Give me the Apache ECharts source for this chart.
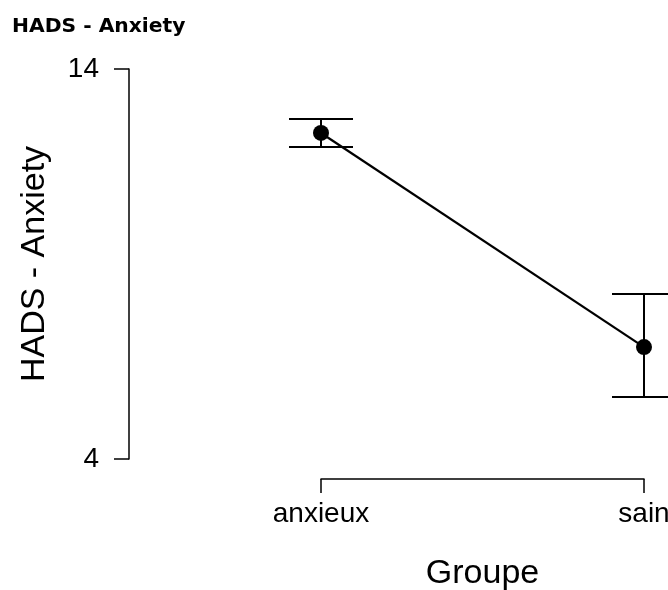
<!DOCTYPE html>
<html>
<head>
<meta charset="utf-8">
<script src="https://cdn.jsdelivr.net/npm/echarts@6/dist/echarts.min.js"></script>
<style>
  html, body { margin: 0; padding: 0; background: #fff; }
  #main { width: 668px; height: 590px; }
</style>
</head>
<body>
<div id="main"></div>
<script>
// données
const groups = ['anxieux', 'sain'];
const means = [12.36, 6.87];
const lower = [12.0, 5.59];
const upper = [12.72, 8.23];
const yMin = 4;
const yMax = 14;

const errData = groups.map((g, i) => [i, lower[i], upper[i]]);

const chart = echarts.init(document.getElementById('main'));

const option = {
  animation: false,
  title: {
    text: 'HADS - Anxiety',
    left: 12,
    top: 17,
    padding: 0,
    textStyle: { fontFamily: 'DejaVu Sans', fontWeight: 'bold', fontSize: 20.3, color: '#000' },
  },
  // v6: ne pas rétrécir la grille pour garder les libellés dans le cadre
  grid: { left: 321, right: 24, top: 69, bottom: 131, outerBoundsMode: 'none', containLabel: false },
  xAxis: {
    type: 'category',
    data: groups,
    boundaryGap: false,
    offset: 20,
    name: 'Groupe',
    nameLocation: 'middle',
    nameGap: 78,
    nameTextStyle: { fontFamily: 'Liberation Sans', fontSize: 34, color: '#000' },
    axisLine: { lineStyle: { color: '#000', width: 1.5 } },
    axisTick: { length: 14, lineStyle: { color: '#000', width: 1.5 } },
    axisLabel: { fontFamily: 'Liberation Sans', fontSize: 28, color: '#000', margin: 21 },
    splitLine: { show: false },
  },
  yAxis: {
    type: 'value',
    min: yMin,
    max: yMax,
    interval: 10,
    offset: 192,
    name: 'HADS - Anxiety',
    nameLocation: 'middle',
    nameGap: 77,
    nameTextStyle: { fontFamily: 'Liberation Sans', fontSize: 34, color: '#000' },
    axisLine: { show: true, lineStyle: { color: '#000', width: 1.5 } },
    axisTick: { show: true, length: 15, lineStyle: { color: '#000', width: 1.5 } },
    axisLabel: { fontFamily: 'Liberation Sans', fontSize: 28, color: '#000', margin: 30 },
    splitLine: { show: false },
  },
  series: [
    {
      type: 'custom',
      data: errData,
      z: 2,
      clip: false,
      renderItem: function (params, api) {
        const x = api.value(0);
        const lo = api.coord([x, api.value(1)]);
        const hi = api.coord([x, api.value(2)]);
        const hw = 32;
        const style = { stroke: '#000', lineWidth: 2 };
        return {
          type: 'group',
          children: [
            { type: 'line', shape: { x1: lo[0], y1: lo[1], x2: hi[0], y2: hi[1] }, style: style },
            { type: 'line', shape: { x1: lo[0] - hw, y1: lo[1], x2: lo[0] + hw, y2: lo[1] }, style: style },
            { type: 'line', shape: { x1: hi[0] - hw, y1: hi[1], x2: hi[0] + hw, y2: hi[1] }, style: style },
          ],
        };
      },
    },
    {
      type: 'line',
      data: means,
      z: 3,
      symbol: 'circle',
      symbolSize: 16,
      lineStyle: { color: '#000', width: 2.2 },
      itemStyle: { color: '#000' },
    },
  ],
};

chart.setOption(option);
</script>
</body>
</html>
